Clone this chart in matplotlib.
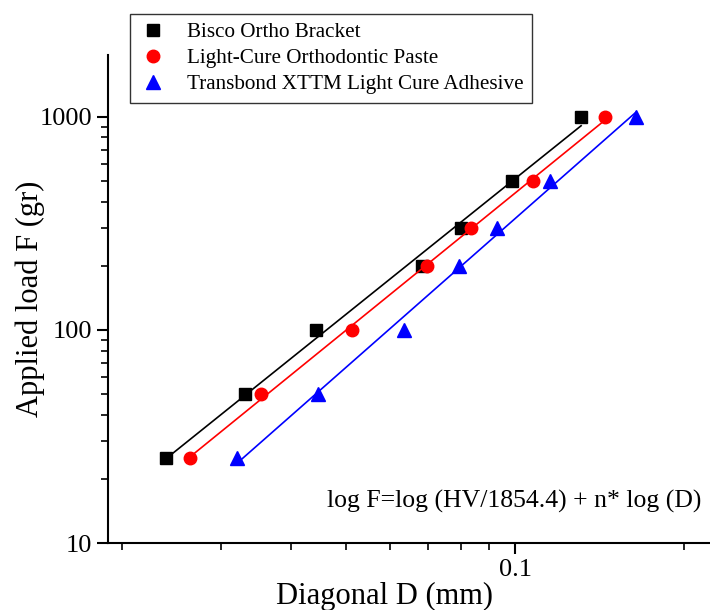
import numpy as np
import matplotlib.pyplot as plt
from matplotlib.ticker import LogLocator, NullFormatter, FixedLocator, FixedFormatter

plt.rcParams['font.family'] = ['Liberation Serif', 'DejaVu Serif']

# applied load (gr)
load = [25, 50, 100, 200, 300, 500, 1000]

# diagonal D (mm)
d_bisco = [0.0240, 0.0331, 0.0443, 0.0684, 0.0802, 0.0988, 0.131]
d_paste = [0.0264, 0.0353, 0.0513, 0.0697, 0.0835, 0.1077, 0.1445]
d_transbond = [0.0321, 0.0446, 0.0634, 0.0795, 0.0929, 0.1154, 0.164]

series = [
    ("Bisco Ortho Bracket", d_bisco, 'black', 's', 8),
    ("Light-Cure Orthodontic Paste", d_paste, 'red', 'o', 9),
    ("Transbond XTTM Light Cure Adhesive", d_transbond, 'blue', '^', 10),
]

fig = plt.figure(figsize=(7.1, 6.1), dpi=100)
ax = fig.add_axes([108 / 710, 67 / 610, 1 - 108 / 710, 488 / 610])

for name, d, col, mk, ms in series:
    d = np.array(d)
    F = np.array(load, dtype=float)
    # linear fit in log-log space
    n, c = np.polyfit(np.log10(d), np.log10(F), 1)
    xs = np.array([d.min(), d.max()])
    ax.plot(xs, 10 ** (c + n * np.log10(xs)), color=col, lw=1.2)
    ax.plot(d, F, linestyle='none', marker=mk, color=col, markersize=ms, label=name)

ax.set_xscale('log')
ax.set_yscale('log')
ax.set_xlim(0.0189, 0.222)
ax.set_ylim(10, 1950)

for s in ['top', 'right']:
    ax.spines[s].set_visible(False)
ax.spines['left'].set_linewidth(1.5)
ax.spines['bottom'].set_linewidth(1.5)

ax.xaxis.set_major_locator(FixedLocator([0.1]))
ax.xaxis.set_major_formatter(FixedFormatter(['0.1']))
ax.xaxis.set_minor_locator(LogLocator(base=10, subs=np.arange(2, 10)))
ax.xaxis.set_minor_formatter(NullFormatter())
ax.yaxis.set_major_locator(FixedLocator([10, 100, 1000]))
ax.yaxis.set_major_formatter(FixedFormatter(['10', '100', '1000']))
ax.yaxis.set_minor_locator(LogLocator(base=10, subs=np.arange(2, 10)))
ax.yaxis.set_minor_formatter(NullFormatter())

ax.tick_params(which='major', direction='out', length=8, width=1.5, labelsize=19)
ax.tick_params(which='minor', direction='out', length=5, width=1.2)

ax.set_xlabel('Diagonal D (mm)', fontsize=22)
ax.xaxis.set_label_coords(0.46, -0.08)
ax.set_ylabel('Applied load F (gr)', fontsize=22)
ax.yaxis.set_label_coords(-0.105, 0.5)

ax.text(0.985, 0.085, 'log F=log (HV/1854.4) + n* log (D)', transform=ax.transAxes,
        ha='right', va='center', fontsize=18.5)

leg = fig.legend(loc='upper left', bbox_to_anchor=(130 / 710, 1 - 14 / 610),
                 fontsize=15.2, frameon=True, fancybox=False, edgecolor='black',
                 handletextpad=0.9, borderpad=0.4, labelspacing=0.3, handlelength=1.4,
                 borderaxespad=0)
leg.get_frame().set_linewidth(1.0)

fig.savefig('out.png', dpi=100)
